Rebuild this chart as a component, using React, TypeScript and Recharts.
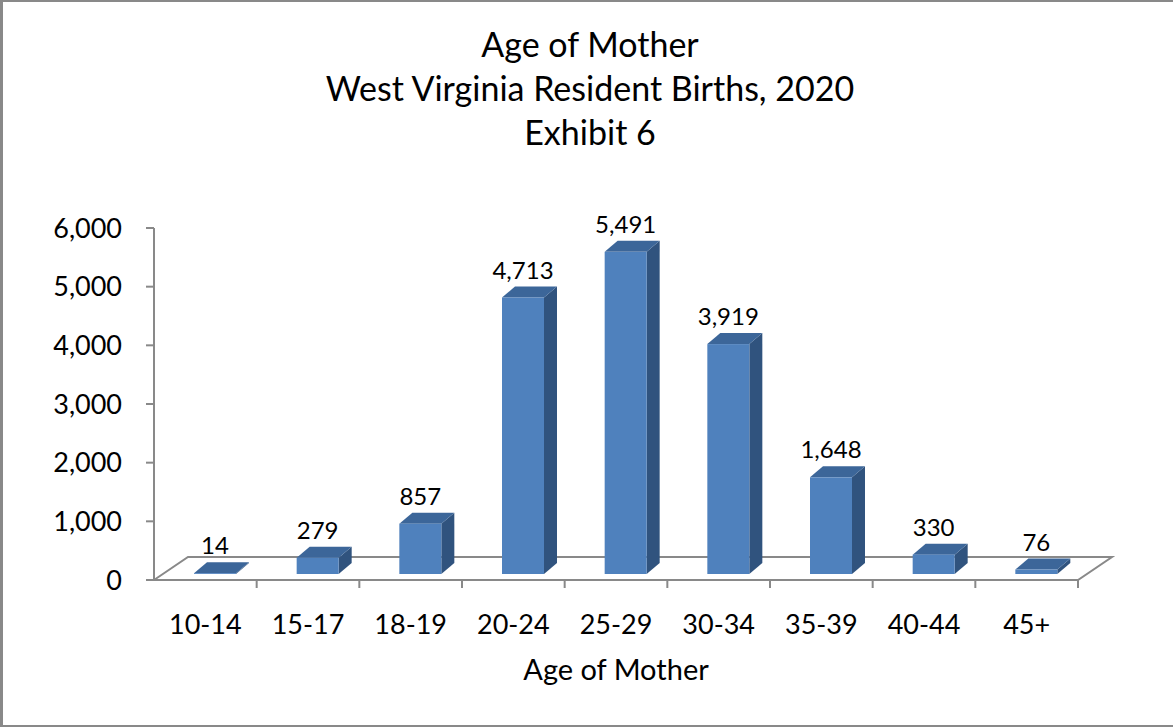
import { BarChart, Bar, XAxis, YAxis, ReferenceLine, LabelList } from "recharts";

const AGE_GROUPS = ["10-14", "15-17", "18-19", "20-24", "25-29", "30-34", "35-39", "40-44", "45+"];
const BIRTHS = [14, 279, 857, 4713, 5491, 3919, 1648, 330, 76];
const Y_TICKS = [0, 1000, 2000, 3000, 4000, 5000, 6000];
const TITLE_LINES = ["Age of Mother", "West Virginia Resident Births, 2020", "Exhibit 6"];
const X_TITLE = "Age of Mother";

const data = AGE_GROUPS.map((age, i) => ({ age, births: BIRTHS[i] }));

const FONT = "Lato, 'Open Sans', sans-serif";
const INK = "#000000";
const RULE = "#898989";
const FRONT = "#4F81BD";
const SIDE = "#30537E";
const TOP = "#3C6699";

// fake 3d: bar sits in the middle of the floor depth
const SHIFT_X = 10;
const SHIFT_Y = 6;
const DX = 13;
const DY = 11;
const FLOOR_DX = 34;
const FLOOR_DY = 23;

const fmt = (v: number) => v.toLocaleString("en-US");

function Bar3D(props: any) {
  const { x, y, width, height } = props;
  const fx = x + SHIFT_X;
  const fy = y - SHIFT_Y;
  const w = width;
  const h = Math.max(height, 0.5);
  return (
    <g>
      <polygon
        points={`${fx + w},${fy} ${fx + w + DX},${fy - DY} ${fx + w + DX},${fy + h - DY} ${fx + w},${fy + h}`}
        fill={SIDE}
      />
      <polygon
        points={`${fx},${fy} ${fx + DX},${fy - DY} ${fx + w + DX},${fy - DY} ${fx + w},${fy}`}
        fill={TOP}
      />
      <rect x={fx} y={fy} width={w} height={h} fill={FRONT} />
    </g>
  );
}

function BarValue(props: any) {
  const { x, y, width, value } = props;
  return (
    <text
      x={x + SHIFT_X + width / 2}
      y={y - SHIFT_Y - DY - 8}
      textAnchor="middle"
      fontSize={24}
      fontFamily={FONT}
      fill={INK}
    >
      {fmt(value)}
    </text>
  );
}

// floor plane drawn off the zero line; category ticks hang from its front edge
function Floor(props: any) {
  const { x1, y1, x2 } = props;
  const step = (x2 - x1) / AGE_GROUPS.length;
  const ticks = AGE_GROUPS.map((_, i) => x1 + step * (i + 1));
  return (
    <g stroke={RULE} strokeWidth={2} fill="none">
      <polygon
        points={`${x1},${y1} ${x1 + FLOOR_DX},${y1 - FLOOR_DY} ${x2 + FLOOR_DX},${y1 - FLOOR_DY} ${x2},${y1}`}
        fill="#fff"
      />
      {ticks.map((tx, i) => (
        <line key={i} x1={tx} y1={y1} x2={tx} y2={y1 + 8} />
      ))}
    </g>
  );
}

export default function App() {
  return (
    <div
      style={{
        position: "relative",
        width: 1173,
        height: 727,
        boxSizing: "border-box",
        borderLeft: `3px solid ${RULE}`,
        borderTop: `2px solid ${RULE}`,
        borderBottom: `2px solid ${RULE}`,
        background: "#fff",
        overflow: "hidden",
      }}
    >
      <style>{"body{margin:0}"}</style>
      <div style={{ position: "absolute", left: -3, top: -2 }}>
        <BarChart
          width={1173}
          height={727}
          data={data}
          margin={{ top: 228, right: 95, bottom: 107, left: 94 }}
          barSize={42}
        >
          <ReferenceLine y={0} shape={<Floor />} zIndex={-60} />
          <XAxis
            dataKey="age"
            height={40}
            axisLine={false}
            tickLine={false}
            tickSize={0}
            tickMargin={35}
            tick={{ fontSize: 27, fill: INK, fontFamily: FONT }}
            interval={0}
            label={{
              value: X_TITLE,
              position: "insideBottom",
              offset: -60,
              fontSize: 29,
              fill: INK,
              fontFamily: FONT,
            }}
          />
          <YAxis
            width={60}
            domain={[0, 6000]}
            ticks={Y_TICKS}
            tickFormatter={fmt}
            axisLine={{ stroke: RULE, strokeWidth: 2 }}
            tickLine={{ stroke: RULE, strokeWidth: 2 }}
            tickSize={8}
            tickMargin={24}
            tick={{ fontSize: 27, fill: INK, fontFamily: FONT }}
          />
          <Bar dataKey="births" shape={<Bar3D />} isAnimationActive={false}>
            <LabelList dataKey="births" content={<BarValue />} />
          </Bar>
        </BarChart>
      </div>
      <svg
        width={1173}
        height={170}
        style={{ position: "absolute", left: -3, top: -2 }}
        fontFamily={FONT}
        fill={INK}
      >
        {TITLE_LINES.map((t, i) => (
          <text key={t} x={590} y={57 + i * 44} textAnchor="middle" fontSize={34}>
            {t}
          </text>
        ))}
      </svg>
    </div>
  );
}
